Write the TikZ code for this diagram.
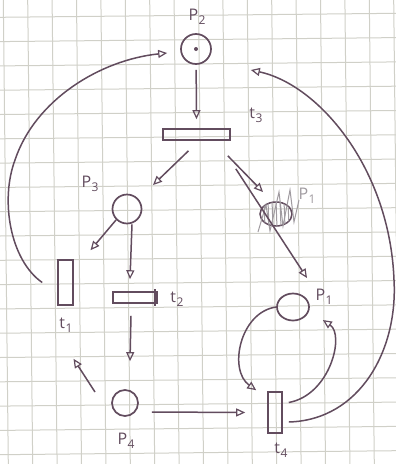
\documentclass[tikz,border=0pt]{standalone}
\usepackage{fontspec}
\setmainfont{Open Sans}
\usetikzlibrary{arrows.meta,shapes.geometric}
\definecolor{ink}{RGB}{98,76,94}
\definecolor{faint}{RGB}{160,155,160}
\definecolor{gridc}{RGB}{208,208,200}
\newcommand{\lbl}[2]{#1\kern0.5pt\raisebox{-0.45ex}{\fontsize{12}{12}\selectfont #2}}
\tikzset{
  place/.style={circle,draw=ink,line width=1.7pt,minimum size=30pt,inner sep=0pt},
  trans/.style={rectangle,draw=ink,line width=1.6pt,inner sep=0pt},
  arr/.style={draw=ink,line width=1.5pt,-{Triangle[open,length=9pt,width=8pt,line width=1.2pt]}},
  lab/.style={text=ink,font=\fontsize{16}{16}\selectfont,inner sep=0pt},
  gridline/.style={draw=gridc,line width=1pt}
}
\begin{document}
\begin{tikzpicture}[x=1pt,y=-1pt]
\fill[white] (0,0) rectangle (396,464);
\useasboundingbox (0,0) rectangle (396,464);
\begin{scope}
\clip (0,0) rectangle (396,464);
\foreach \k in {-1,...,17} \draw[gridline] ({3.3+24.4*\k},0) -- ({8.3+24.4*\k},464);
\foreach \k in {-1,...,19} \draw[gridline] (0,{17.3+24.3*\k}) -- (396,{13.3+24.3*\k});
\end{scope}

% places
\node[place] (P2) at (196,49) {};
\fill[ink] (P2.center) circle (2pt);
\node[place,minimum size=29pt] (P3) at (127,209) {};
\node[place,minimum size=26pt] (P4) at (125,403) {};
\node[ellipse,draw=ink,line width=1.7pt,minimum width=32pt,minimum height=27pt,inner sep=0pt] (P1) at (293,307) {};

% crossed-out old place
\node[ellipse,draw=ink,line width=1.5pt,minimum width=32pt,minimum height=24pt,inner sep=0pt] (P1old) at (276,214) {};
\begin{scope}
\clip (276,214) ellipse (16pt and 12pt);
\foreach \xx in {264,268,...,288} \draw[faint,line width=1pt] (\xx,200) -- (\xx+1,228);
\end{scope}
\draw[faint,line width=1pt] (258,232) -- (266,205) -- (270,231) -- (279,192) -- (283,226) -- (290,190) -- (294,222) -- (299,200);
\node[lab,text=faint] (oldlab) at (307,196) {\lbl{P}{1}};

% transitions
\node[trans,minimum width=67pt,minimum height=11pt] (t3) at (196.5,134.5) {};
\node[trans,minimum width=44pt,minimum height=11pt] (t2) at (135,297.5) {};
\draw[ink,line width=1.5pt] ([xshift=-3pt,yshift=2pt]t2.north east) -- ([xshift=-3pt,yshift=-2pt]t2.south east);
\node[trans,minimum width=15pt,minimum height=45pt] (t1) at (65.5,282.5) {};
\node[trans,minimum width=14pt,minimum height=41pt] (t4) at (275,412.5) {};

% labels
\node[lab] (lP2) at (197,17) {\lbl{P}{2}};
\node[lab] (lt3) at (256,115) {\lbl{t}{3}};
\node[lab] (lP3) at (90,184) {\lbl{P}{3}};
\node[lab] (lt1) at (66,325) {\lbl{t}{1}};
\node[lab] (lt2) at (177,299) {\lbl{t}{2}};
\node[lab] (lP4) at (126,441) {\lbl{P}{4}};
\node[lab] (lt4) at (281,450) {\lbl{t}{4}};
\node[lab] (lP1) at (324,297) {\lbl{P}{1}};

% connectors
\draw[arr,shorten <=5pt] (P2) -- ([yshift=9pt]t3.north);
\draw[arr] ([xshift=-8pt,yshift=-10pt]t3.south) -- ([xshift=26pt,yshift=24pt]P3.center);
\draw[arr] ([xshift=-3pt,yshift=-15pt]t3.south east) -- ([xshift=-13pt,yshift=22pt]P1old.center);
\draw[arr] ([xshift=5pt,yshift=-28pt]t3.south east) -- ([xshift=14pt,yshift=29pt]P1.center);
\draw[arr] (P3.225) -- ([xshift=25pt,yshift=9pt]t1.north);
\draw[arr] ([xshift=5pt]P3.south) -- ([xshift=-5pt,yshift=12pt]t2.north);
\draw[arr] ([xshift=-4pt,yshift=-12pt]t2.south) -- ([xshift=5pt,yshift=28pt]P4.north);
\draw[arr] ([xshift=-30pt,yshift=11pt]P4.center) -- ([xshift=8pt,yshift=-53pt]t1.south);
\draw[arr] ([xshift=13pt,yshift=-9pt]P4.east) -- ([xshift=-22pt]t4.west);
\draw[arr] (P1.west) .. controls (240,312) and (228,370) .. ([xshift=-11pt,yshift=1pt]t4.north west);
\draw[arr] ([xshift=6pt,yshift=10pt]t4.east) .. controls (330,395) and (345,335) .. ([xshift=13pt,yshift=-13pt]P1.east);
\draw[arr] ([xshift=6pt,yshift=-9.5pt]t4.east) .. controls (360,420) and (398,350) .. (394,280) .. controls (390,170) and (320,85) .. ([xshift=39pt,yshift=-21pt]P2.east);
\draw[arr] ([xshift=-15pt]t1.west) .. controls (10,260) and (0,200) .. (15,160) .. controls (35,100) and (100,60) .. ([xshift=-13pt,yshift=-4pt]P2.west);
\end{tikzpicture}
\end{document}
